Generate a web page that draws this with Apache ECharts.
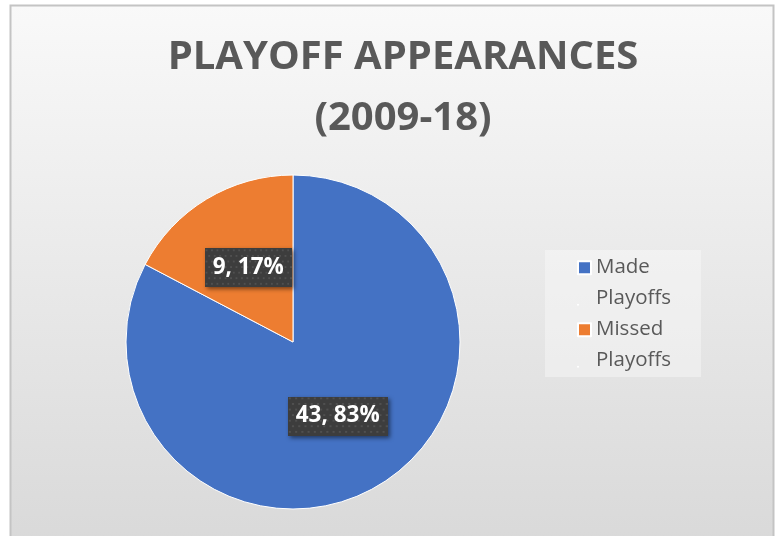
<!DOCTYPE html>
<html><head><meta charset="utf-8">
<script src="https://cdn.jsdelivr.net/npm/echarts@6/dist/echarts.min.js"></script>
<style>html,body{margin:0;padding:0;background:#fff}#c{width:775px;height:536px}</style>
</head><body><div id="c"></div>
<script>
const categories = ["Made Playoffs", "Missed Playoffs"];
const values = [43, 9];
const colors = ["#4472C4", "#ED7D31"];
const titleText = "PLAYOFF APPEARANCES\n(2009-18)";
const legendLabels = ["Made\nPlayoffs", "Missed\nPlayoffs"];

const total = values.reduce((a, b) => a + b, 0);

// dotted dark pattern for data label boxes
const pat = document.createElement('canvas');
pat.width = 96; pat.height = 42;
const g = pat.getContext('2d');
g.fillStyle = '#3d3d3d'; g.fillRect(0, 0, 96, 42);
g.fillStyle = '#505050';
for (let y = 1, r = 0; y < 42; y += 6, r++) {
  for (let x = (r % 2) * 3 + 1; x < 96; x += 6) g.fillRect(x, y, 2, 2);
}

const chart = echarts.init(document.getElementById('c'));
chart.setOption({
  animation: false,
  graphic: [{
    type: 'rect', z: -10, silent: true,
    shape: { x: 10.5, y: 5.5, width: 763, height: 540 },
    style: {
      fill: { type: 'linear', x: 0, y: 0, x2: 0, y2: 1, colorStops: [
        { offset: 0, color: '#f9f9f9' }, { offset: 1, color: '#d9d9d9' }] },
      stroke: '#c4c4c4', lineWidth: 2
    }
  }],
  title: {
    text: titleText, left: 398, textAlign: 'center', top: 22,
    textStyle: { fontFamily: 'Open Sans', fontWeight: 'bold', fontSize: 40, color: '#595959', lineHeight: 61 }
  },
  legend: {
    orient: 'vertical', left: 545, top: 250,
    data: categories,
    icon: 'path://M0,0H10V10H0Z M0,33.5H0.01V33.51H0Z',
    itemWidth: 13, itemHeight: 44, itemGap: 0,
    backgroundColor: 'rgba(255,255,255,0.35)',
    padding: [2, 30, 1, 32],
    formatter: name => legendLabels[categories.indexOf(name)],
    textStyle: { fontFamily: 'Open Sans', fontSize: 20.5, color: '#595959', lineHeight: 31 }
  },
  series: [{
    type: 'pie', center: [293, 342], radius: 167,
    startAngle: 90, clockwise: true,
    itemStyle: { borderColor: '#ffffff', borderWidth: 1 },
    label: {
      show: true, position: 'inside',
      formatter: p => p.value + ', ' + Math.round(p.value / total * 100) + '%',
      fontFamily: 'Open Sans', fontWeight: 'bold', fontSize: 22.5, color: '#ffffff',
      backgroundColor: { image: pat }, padding: [8, 8, 8, 8],
      shadowColor: 'rgba(0,0,0,0.5)', shadowBlur: 4, shadowOffsetX: 2, shadowOffsetY: 2
    },
    labelLine: { show: false },
    data: categories.map((c, i) => ({ name: c, value: values[i], itemStyle: { color: colors[i] } }))
  }]
});
</script></body></html>
